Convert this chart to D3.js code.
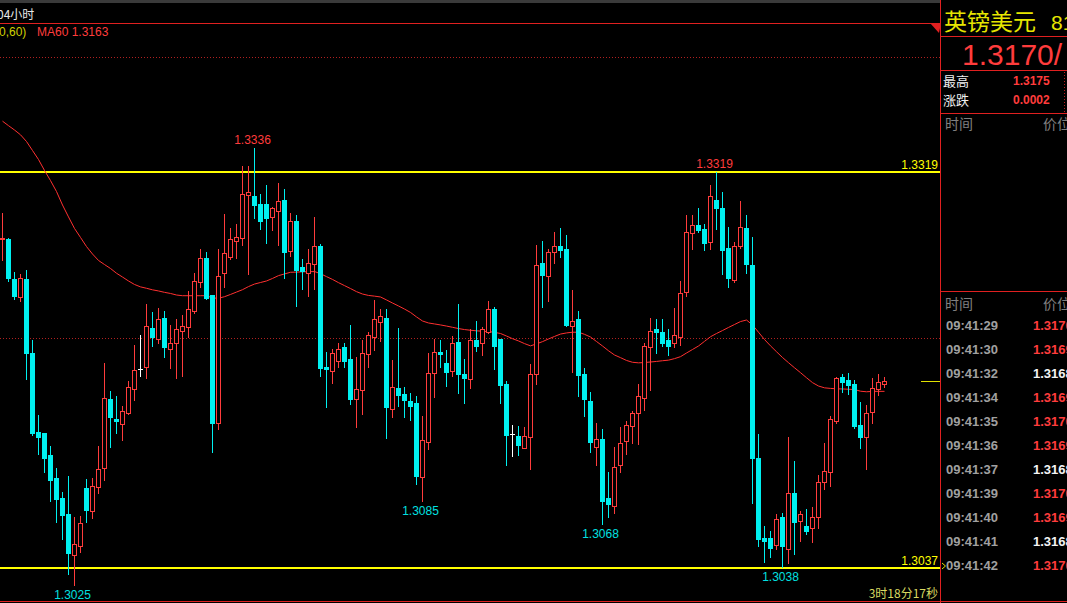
<!DOCTYPE html>
<html><head><meta charset="utf-8">
<script src="https://cdn.jsdelivr.net/npm/d3@7"></script>
<style>body{margin:0;background:#000;overflow:hidden}svg{display:block}</style>
</head><body><script>
const openP=[1.32713,1.32713,1.32428,1.32300,1.32428,1.31901,1.31339,1.31331,1.31175,1.31011,1.30869,1.30755,1.30463,1.30527,1.30940,1.30776,1.30947,1.31082,1.31574,1.31431,1.31396,1.31474,1.31645,1.31787,1.31801,1.32079,1.32001,1.32150,1.31930,1.31972,1.32058,1.32086,1.32200,1.32407,1.32578,1.32314,1.31403,1.32471,1.32585,1.32699,1.32720,1.33026,1.33019,1.32962,1.32962,1.32870,1.32912,1.32991,1.32627,1.32841,1.32514,1.32471,1.32535,1.32663,1.31801,1.31773,1.31844,1.31944,1.31858,1.31574,1.31638,1.31894,1.32015,1.32122,1.32150,1.31502,1.31652,1.31609,1.31559,1.31545,1.31018,1.31267,1.31759,1.31908,1.31830,1.31773,1.31979,1.31752,1.31716,1.31994,1.31972,1.32051,1.32214,1.32001,1.31680,1.31324,1.31310,1.31225,1.31303,1.31752,1.32542,1.32449,1.32620,1.32663,1.32642,1.32093,1.32143,1.31752,1.31559,1.31232,1.31289,1.30869,1.30812,1.31104,1.31274,1.31381,1.31474,1.31581,1.31944,1.32072,1.32051,1.31994,1.31972,1.32015,1.32335,1.32756,1.32813,1.32784,1.32692,1.32991,1.32934,1.32649,1.32421,1.32663,1.32791,1.32528,1.31153,1.30584,1.30584,1.30534,1.30733,1.30505,1.30904,1.30705,1.30669,1.30655,1.30733,1.30982,1.31054,1.31417,1.31730,1.31709,1.31680,1.31388,1.31303,1.31481,1.31645,1.31680];
const highP=[1.32898,1.32720,1.32478,1.32464,1.32492,1.31994,1.31460,1.31331,1.31239,1.31082,1.30911,1.31025,1.30733,1.30740,1.31004,1.31011,1.31239,1.31830,1.31630,1.31595,1.31524,1.31702,1.31958,1.32029,1.32250,1.32193,1.32222,1.32200,1.32100,1.32143,1.32172,1.32343,1.32471,1.32642,1.32620,1.32314,1.32642,1.32891,1.32791,1.32820,1.33233,1.33233,1.33361,1.33033,1.33097,1.32941,1.33112,1.33069,1.32898,1.32884,1.32570,1.32642,1.32870,1.32677,1.31908,1.31930,1.31972,1.31972,1.32100,1.31873,1.31994,1.32051,1.32278,1.32214,1.32214,1.31851,1.32079,1.31659,1.31616,1.31595,1.31452,1.31901,1.32001,1.31994,1.31922,1.32022,1.32250,1.31858,1.32072,1.32129,1.32086,1.32271,1.32229,1.32001,1.31702,1.31388,1.31381,1.31374,1.31823,1.32670,1.32699,1.32642,1.32763,1.32791,1.32741,1.32350,1.32200,1.31794,1.31623,1.31403,1.31360,1.31054,1.31232,1.31374,1.31417,1.31488,1.31680,1.31972,1.32150,1.32143,1.32143,1.32072,1.32222,1.32414,1.32884,1.32884,1.32934,1.32820,1.33097,1.33190,1.33048,1.32798,1.32692,1.32983,1.32884,1.32727,1.31324,1.30669,1.30634,1.30755,1.30762,1.31303,1.31132,1.30776,1.30790,1.30804,1.31032,1.31260,1.31452,1.31730,1.31752,1.31759,1.31709,1.31552,1.31531,1.31723,1.31752,1.31730];
const lowP=[1.32563,1.32414,1.32286,1.32271,1.31716,1.31317,1.31182,1.31054,1.30847,1.30698,1.30577,1.30327,1.30250,1.30484,1.30698,1.30726,1.30904,1.30997,1.31232,1.31331,1.31282,1.31467,1.31566,1.31737,1.31723,1.31951,1.31972,1.31873,1.31794,1.31723,1.31737,1.32015,1.32186,1.32371,1.32286,1.31196,1.31360,1.32371,1.32570,1.32578,1.32670,1.32464,1.32862,1.32784,1.32684,1.32777,1.32670,1.32435,1.32592,1.32236,1.32357,1.32307,1.32357,1.31737,1.31517,1.31687,1.31801,1.31801,1.31538,1.31374,1.31467,1.31801,1.31922,1.31987,1.31296,1.31445,1.31524,1.31445,1.31424,1.30968,1.30850,1.31217,1.31588,1.31801,1.31666,1.31737,1.31616,1.31545,1.31652,1.31915,1.31887,1.32044,1.31787,1.31545,1.31104,1.31168,1.31175,1.31225,1.31075,1.31680,1.32229,1.32271,1.32542,1.32585,1.32093,1.31766,1.31595,1.31452,1.31196,1.31104,1.30680,1.30733,1.30762,1.31054,1.31182,1.31260,1.31253,1.31495,1.31638,1.31901,1.31951,1.31887,1.31944,1.31958,1.32307,1.32642,1.32763,1.32635,1.32642,1.32784,1.32464,1.32371,1.32407,1.32649,1.32471,1.30833,1.30527,1.30413,1.30448,1.30505,1.30380,1.30406,1.30470,1.30562,1.30612,1.30555,1.30655,1.30933,1.30954,1.31403,1.31623,1.31609,1.31367,1.31225,1.31075,1.31403,1.31602,1.31659];
const closeP=[1.32720,1.32435,1.32307,1.32435,1.31901,1.31331,1.31303,1.31153,1.30997,1.30861,1.30747,1.30477,1.30541,1.30691,1.30783,1.30954,1.31075,1.31581,1.31445,1.31417,1.31488,1.31659,1.31780,1.31787,1.32093,1.32015,1.32143,1.31944,1.31972,1.32072,1.32093,1.32214,1.32414,1.32578,1.32293,1.31403,1.32449,1.32613,1.32713,1.32727,1.33033,1.33048,1.32955,1.32841,1.32862,1.32934,1.32983,1.32620,1.32841,1.32492,1.32485,1.32542,1.32663,1.31794,1.31787,1.31901,1.31930,1.31844,1.31574,1.31645,1.31901,1.32029,1.32143,1.32165,1.31517,1.31659,1.31602,1.31566,1.31524,1.31025,1.31282,1.31759,1.31908,1.31894,1.31766,1.31972,1.31752,1.31723,1.31994,1.31951,1.32072,1.32214,1.31951,1.31673,1.31317,1.31324,1.31246,1.31310,1.31752,1.32528,1.32457,1.32620,1.32663,1.32635,1.32100,1.32129,1.31744,1.31574,1.31267,1.31289,1.30847,1.30826,1.31089,1.31260,1.31388,1.31474,1.31595,1.31951,1.32058,1.32051,1.31972,1.31951,1.32029,1.32328,1.32763,1.32813,1.32777,1.32684,1.33019,1.32934,1.32635,1.32435,1.32663,1.32798,1.32535,1.31153,1.30577,1.30562,1.30513,1.30719,1.30527,1.30904,1.30698,1.30755,1.30634,1.30733,1.30982,1.31061,1.31431,1.31723,1.31695,1.31673,1.31381,1.31303,1.31474,1.31652,1.31695,1.31702];
const ma60=[1.33552,1.33520,1.33489,1.33455,1.33407,1.33343,1.33279,1.33201,1.33129,1.33051,1.32955,1.32870,1.32788,1.32724,1.32659,1.32606,1.32560,1.32531,1.32503,1.32469,1.32442,1.32414,1.32389,1.32372,1.32362,1.32351,1.32343,1.32333,1.32325,1.32314,1.32309,1.32309,1.32309,1.32309,1.32309,1.32293,1.32291,1.32302,1.32318,1.32335,1.32352,1.32374,1.32392,1.32403,1.32414,1.32432,1.32452,1.32464,1.32476,1.32477,1.32479,1.32480,1.32481,1.32466,1.32445,1.32425,1.32402,1.32381,1.32360,1.32338,1.32321,1.32311,1.32306,1.32300,1.32279,1.32257,1.32236,1.32214,1.32190,1.32158,1.32129,1.32115,1.32108,1.32101,1.32093,1.32084,1.32075,1.32068,1.32063,1.32059,1.32056,1.32054,1.32048,1.32040,1.32022,1.32003,1.31987,1.31968,1.31952,1.31966,1.31982,1.32001,1.32019,1.32036,1.32044,1.32049,1.32049,1.32034,1.32015,1.31983,1.31951,1.31917,1.31887,1.31868,1.31848,1.31835,1.31831,1.31833,1.31837,1.31841,1.31846,1.31850,1.31861,1.31875,1.31901,1.31926,1.31951,1.31984,1.32017,1.32040,1.32061,1.32083,1.32104,1.32125,1.32136,1.32101,1.32049,1.31997,1.31952,1.31910,1.31869,1.31832,1.31796,1.31761,1.31725,1.31690,1.31666,1.31653,1.31649,1.31646,1.31645,1.31643,1.31641,1.31629,1.31625,1.31628,1.31628,1.31628];
const levelLines=[1.3319,1.3037];
const gridLevels=[1.3400,1.3200];
const highMarks=[42,119];
const lowMarks=[12,70,100,130];
const tickTimes=["09:41:29","09:41:30","09:41:32","09:41:34","09:41:35","09:41:36","09:41:37","09:41:39","09:41:40","09:41:41","09:41:42"];
const tickPrices=[1.3170,1.3169,1.3168,1.3169,1.3170,1.3169,1.3168,1.3170,1.3169,1.3168,1.3170];
const tickColors=["r","r","w","r","r","r","w","r","r","w","r"];

const W=1067,H=603;
const RED="#ff3c3c",CYAN="#00f0f0",YEL="#ffff00";
const NUM="'Liberation Sans',Arial,sans-serif", CJK="'Noto Sans CJK SC','Liberation Sans',sans-serif";
const svg=d3.select("body").append("svg").attr("width",W).attr("height",H);
svg.append("rect").attr("width",W).attr("height",H).attr("fill","#000");
svg.append("rect").attr("x",0).attr("y",0).attr("width",940).attr("height",3).attr("fill","#3a3a3a");

const x=d3.scaleLinear().domain([0,147]).range([2.5,884.5]);
const y=d3.scaleLinear().domain([1.3319,1.3037]).range([172,568]);
const yr=v=>Math.round(y(v));

// grid dotted lines
svg.selectAll(".grid").data(gridLevels).join("line")
 .attr("x1",0).attr("x2",940).attr("y1",d=>yr(d)-0.5).attr("y2",d=>yr(d)-0.5)
 .attr("stroke","#b02020").attr("stroke-dasharray","1,2");

// frame lines
const fr=(x1,y1,x2,y2,c)=>svg.append("line").attr("x1",x1).attr("y1",y1).attr("x2",x2).attr("y2",y2).attr("stroke",c||"#e02020").attr("stroke-width",1);
fr(0,23.5,940,23.5);
fr(0,601.5,W,601.5);
fr(940.5,0,940.5,H);
fr(941,36.5,W,36.5);
fr(941,70.5,W,70.5);
fr(941,113.5,W,113.5);
fr(941,291.5,W,291.5);
svg.append("line").attr("x1",1064.5).attr("x2",1064.5).attr("y1",72).attr("y2",112).attr("stroke","#c02020").attr("stroke-dasharray","1,2");
svg.append("path").attr("d","M930,23 L941,23 L939,33 Z").attr("fill","#e02020");

// level lines
svg.selectAll(".lvl").data(levelLines).join("rect")
 .attr("x",0).attr("width",940).attr("y",d=>yr(d)-1).attr("height",2).attr("fill",YEL);
svg.selectAll(".lvlt").data(levelLines).join("text")
 .attr("x",938).attr("y",d=>yr(d)-3).attr("text-anchor","end").attr("fill",YEL)
 .attr("font-family",NUM).attr("font-size",12).text(d=>d.toFixed(4));

// MA line
svg.append("path").datum(ma60)
 .attr("d",d3.line().x((d,i)=>x(i)).y(d=>y(d)))
 .attr("fill","none").attr("stroke","#ff3030").attr("stroke-width",1);

// candles
const idx=d3.range(openP.length);
const g=svg.append("g");
idx.forEach(i=>{
  const o=openP[i],c=closeP[i],h=highP[i],l=lowP[i];
  const cx=x(i);
  const col=c>o?RED:(c<o?CYAN:"#ffffff");
  g.append("line").attr("x1",cx).attr("x2",cx).attr("y1",yr(h)).attr("y2",yr(l)+1).attr("stroke",col);
  const t=yr(Math.max(o,c)),b=yr(Math.min(o,c));
  if(c>o){
    g.append("rect").attr("x",cx-2).attr("width",4).attr("y",t+0.5).attr("height",Math.max(1,b-t))
     .attr("fill","#000").attr("stroke",col);
  } else if(c<o){
    g.append("rect").attr("x",cx-2.5).attr("width",5).attr("y",t).attr("height",Math.max(1,b-t+1)).attr("fill",col);
  } else {
    g.append("line").attr("x1",cx-2.5).attr("x2",cx+2.5).attr("y1",t+0.5).attr("y2",t+0.5).attr("stroke",col);
  }
});

// extreme labels
svg.selectAll(".hm").data(highMarks).join("text")
 .attr("x",d=>x(d)-2).attr("y",d=>y(highP[d])-4).attr("text-anchor","middle")
 .attr("fill",RED).attr("font-family",NUM).attr("font-size",12).text(d=>highP[d].toFixed(4));
svg.selectAll(".lm").data(lowMarks).join("text")
 .attr("x",d=>x(d)-2).attr("y",d=>y(lowP[d])+14).attr("text-anchor","middle")
 .attr("fill","#00e0e0").attr("font-family",NUM).attr("font-size",12).text(d=>lowP[d].toFixed(4));

// current price marker
const last=closeP[closeP.length-1];
svg.append("line").attr("x1",921).attr("x2",940).attr("y1",yr(last)+0.5).attr("y2",yr(last)+0.5).attr("stroke","#e0e000");

// header texts
svg.append("text").attr("x",-3).attr("y",19).attr("fill","#e8e8e8").attr("font-family",CJK).attr("font-size",12).text("04小时");
svg.append("text").attr("x",-1).attr("y",36).attr("fill","#d0d000").attr("font-family",NUM).attr("font-size",12).text("0,60)");
svg.append("text").attr("x",37).attr("y",36).attr("fill",RED).attr("font-family",NUM).attr("font-size",12).text("MA60 "+ma60[ma60.length-1].toFixed(4));
svg.append("text").attr("x",938).attr("y",598).attr("text-anchor","end").attr("fill","#d8d860").attr("font-family",CJK).attr("font-size",12).text("3时18分17秒");

// right panel
svg.append("text").attr("x",944).attr("y",30).attr("fill","#e6e600").attr("font-family",CJK).attr("font-size",23).text("英镑美元");
svg.append("text").attr("x",1051).attr("y",30).attr("fill","#e6e600").attr("font-family",NUM).attr("font-size",21).text("81");
svg.append("text").attr("x",962).attr("y",65).attr("fill",RED).attr("font-family",NUM).attr("font-size",30).text(last.toFixed(4)+"/");
svg.append("text").attr("x",943).attr("y",86).attr("fill","#f0f0f0").attr("font-family",CJK).attr("font-size",13).text("最高");
svg.append("text").attr("x",943).attr("y",105).attr("fill","#f0f0f0").attr("font-family",CJK).attr("font-size",13).text("涨跌");
svg.append("text").attr("x",1013).attr("y",85).attr("fill",RED).attr("font-family",NUM).attr("font-weight","bold").attr("font-size",12).text("1.3175");
svg.append("text").attr("x",1013).attr("y",104).attr("fill",RED).attr("font-family",NUM).attr("font-weight","bold").attr("font-size",12).text("0.0002");
[129,309].forEach(b=>{
  svg.append("text").attr("x",945).attr("y",b).attr("fill","#808080").attr("font-family",CJK).attr("font-size",14).text("时间");
  svg.append("text").attr("x",1043).attr("y",b).attr("fill","#808080").attr("font-family",CJK).attr("font-size",14).text("价位");
});
tickTimes.forEach((t,i)=>{
  svg.append("text").attr("x",946).attr("y",330+24*i).attr("fill","#a0a0a0").attr("font-family",NUM).attr("font-weight","bold").attr("font-size",13).text(t);
  svg.append("text").attr("x",1033).attr("y",330+24*i).attr("fill",tickColors[i]==="r"?RED:"#f4f4f4").attr("font-family",NUM).attr("font-weight","bold").attr("font-size",13).text(tickPrices[i].toFixed(4));
});
svg.append("path").attr("d","M942,563 L945.5,566 L942,569").attr("fill","none").attr("stroke","#e0e000");
</script></body></html>
